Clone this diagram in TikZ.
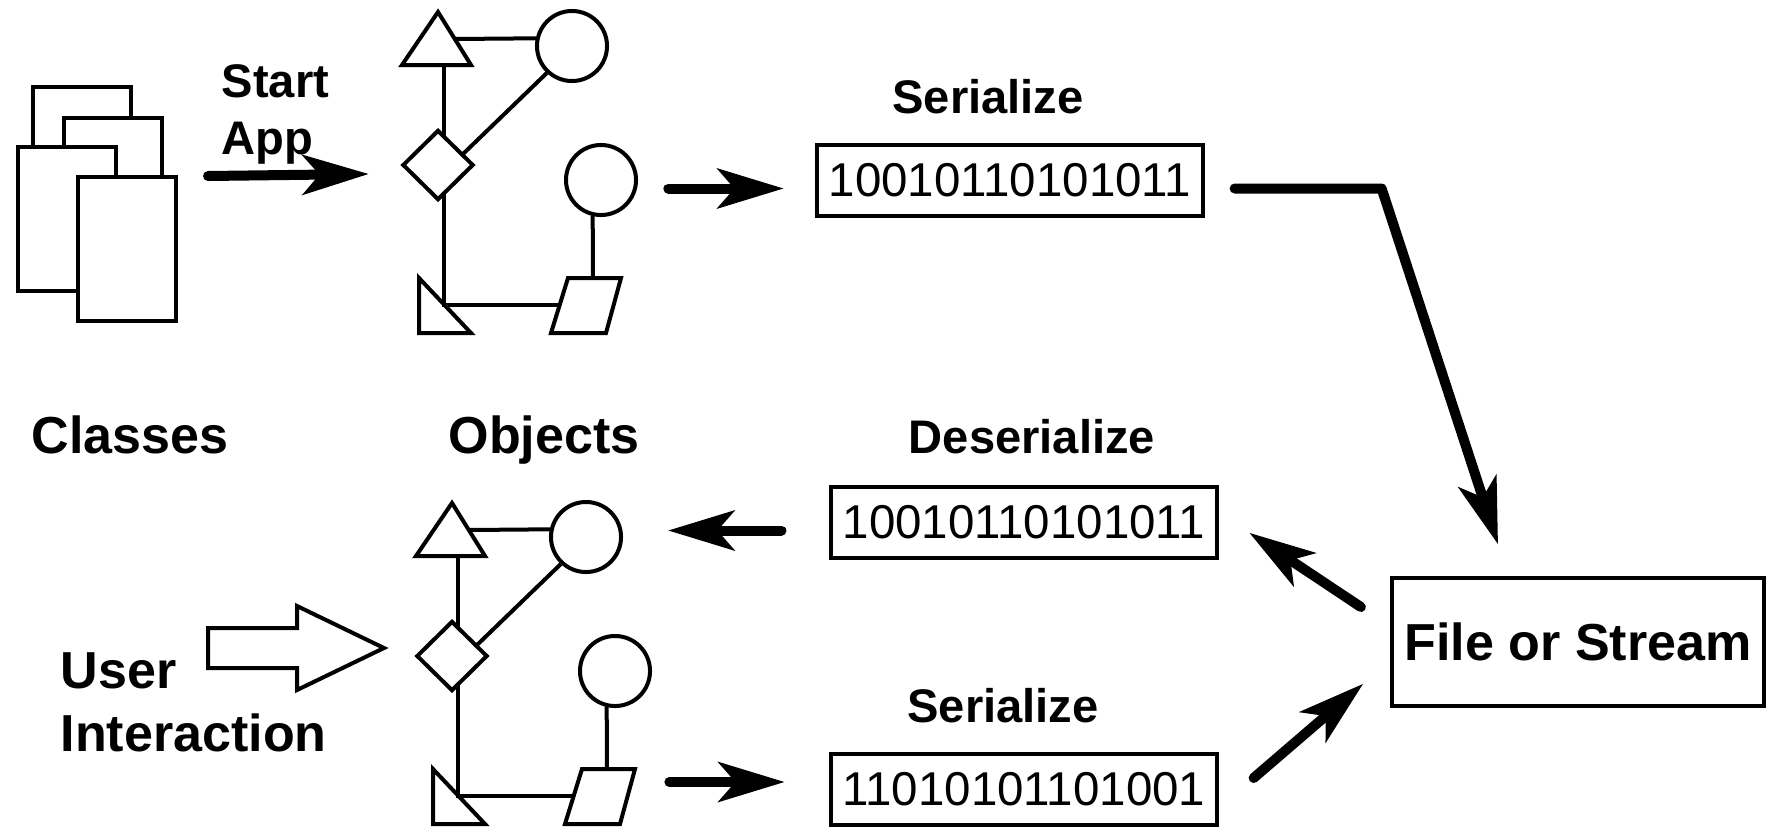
\documentclass[tikz,border=0pt]{standalone}
\usepackage{fontspec}
\setmainfont{Liberation Sans}
\usetikzlibrary{arrows.meta,shapes.geometric,calc}

\tikzset{
  shp/.style={draw, line width=0.04cm, fill=white, inner sep=0pt},
  lnk/.style={line width=0.04cm},
  fat/.style={line width=0.1cm, line cap=round, line join=round,
    -{Stealth[length=0.67cm, width=0.41cm, inset=0.18cm, line width=0pt]}},
  lbl/.style={font=\fontsize{13.4}{16.1}\selectfont\bfseries, inner sep=0pt},
  biglbl/.style={font=\fontsize{14.8}{17.8}\selectfont\bfseries, inner sep=0pt},
  bits/.style={draw, line width=0.04cm, minimum width=3.85cm, minimum height=0.71cm,
    inner sep=0pt, font=\fontsize{13.5}{16}\selectfont},
  classcard/.style={shp, minimum width=0.98cm, minimum height=1.44cm, anchor=north west},
  % a small object graph: triangles, circles, a diamond and a parallelogram
  objgraph/.pic={
    \draw[shp] (438,12) -- (471,65) -- (402,65) -- cycle;
    \node[shp, circle, minimum size=0.7cm] (-c1) at (572,46) {};
    \node[shp, diamond, minimum width=0.71cm, minimum height=0.7cm] (-dm) at (438,165) {};
    \node[shp, circle, minimum size=0.7cm] (-c2) at (601,180) {};
    \draw[shp] (568,278) -- (621,278) -- (606,333) -- (551,333) -- cycle;
    \draw[shp] (419,278) -- (419,333) -- (471,333) -- cycle;
    \draw[lnk] (455,39) -- (-c1.168);
    \draw[lnk] (444,65) -- (444,136);
    \draw[lnk] (444,194) -- (444,305) -- (560,305);
    \draw[lnk] (463,154) -- (-c1.227);
    \draw[lnk] (-c2.257) -- (593,278);
  }
}

\begin{document}
\begin{tikzpicture}[x=0.01cm, y=-0.01cm]
  \useasboundingbox (0,0) rectangle (1767,827);

  % stack of class cards
  \node[classcard] (cls1) at (31,85) {};
  \node[classcard] (cls2) at (62,116) {};
  \node[classcard] (cls3) at (16,145) {};
  \node[classcard] (cls4) at (76,175) {};

  % object graphs before and after the user interaction
  \pic (top) at (0,0) {objgraph};
  \pic (bot) at (14,491) {objgraph};

  % labels
  \node[lbl, align=left, anchor=north west] (startlbl) at (221,64) {Start\\App};
  \node[biglbl, anchor=base] (classes) at (130,453) {Classes};
  \node[biglbl, anchor=base] (objects) at (544,453) {Objects};
  \node[biglbl, align=left, anchor=north west] (userlbl) at (60,652) {User\\Interaction};
  \node[lbl, anchor=base] (ser1) at (988,113) {Serialize};
  \node[lbl, anchor=base] (deser) at (1032,453) {Deserialize};
  \node[lbl, anchor=base] (ser2) at (1003,722) {Serialize};

  % byte streams and their target
  \node[bits] (box1) at (1010,180.5) {10010110101011};
  \node[bits] (box2) at (1024,522.5) {10010110101011};
  \node[bits] (box3) at (1024,789.5) {11010101101001};
  \node[shp, biglbl, minimum width=3.72cm, minimum height=1.28cm] (fos) at (1578,642) {File or Stream};

  % hollow arrow for the user interaction
  \draw[shp] (208,628) -- (297,628) -- (297,606) -- (384,648) -- (297,690)
    -- (297,668) -- (208,668) -- cycle;

  % flow arrows
  \draw[fat] ($(cls4.north east)+(30,1)$) -- ($(top-dm.west)+(-32,9)$);
  \draw[fat] ($(box1.west)+(-147,8)$) -- ($(box1.west)+(-32,8)$);
  \draw[fat] ($(box1.east)+(30,8)$) -- ++(147,0) -- ($(fos.north west)+(108,-32)$);
  \draw[fat] ($(box2.west)+(-48,8)$) -- ($(box2.west)+(-161,8)$);
  \draw[fat] ($(box3.west)+(-160,-7.5)$) -- ($(box3.west)+(-45,-7.5)$);
  \draw[fat] ($(fos.west)+(-29,-35)$) -- ($(box2.east)+(31,10.5)$);
  \draw[fat] ($(box3.east)+(35,-11.5)$) -- ($(fos.west)+(-27,42)$);
\end{tikzpicture}
\end{document}
